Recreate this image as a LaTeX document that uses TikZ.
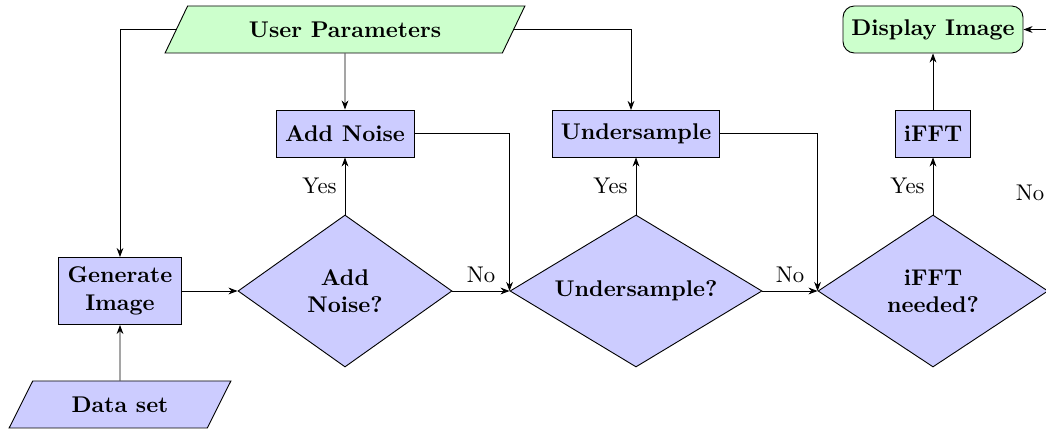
\documentclass[tikz,border=0pt]{standalone}
\usetikzlibrary{shapes.geometric,arrows.meta}
\newcommand\pxu{0.44pt}
\begin{document}
\begin{tikzpicture}[x=0.44pt,y=-0.44pt,
  proc/.style={draw,fill=blue!20,font=\bfseries,align=center,inner sep=2pt},
  dec/.style={draw,fill=blue!20,font=\bfseries,align=center,shape=diamond,inner sep=0pt},
  io/.style={draw,shape=trapezium,trapezium left angle=60,trapezium right angle=120,trapezium stretches=true,font=\bfseries,inner sep=2pt},
  term/.style={draw,fill=green!20,rounded corners=5pt,font=\bfseries,align=center},
  arr/.style={-{Stealth[length=4pt,width=3pt]}},
  lab/.style={inner sep=3.5pt}]
\useasboundingbox (0,0) rectangle (1046,430);
% nodes
\node[io,fill=green!20,minimum width=360*\pxu,minimum height=47*\pxu] (up) at (345,29.5) {User Parameters};
\node[io,fill=blue!20,minimum width=223*\pxu,minimum height=47*\pxu] (ds) at (120,404.5) {Data set};
\node[proc,minimum width=123*\pxu,minimum height=67*\pxu] (gen) at (120,291) {Generate\\Image};
\node[proc,minimum width=138*\pxu,minimum height=47*\pxu] (an) at (345,133.5) {Add Noise};
\node[proc,minimum width=167*\pxu,minimum height=47*\pxu] (us) at (636,133.5) {Undersample};
\node[proc,minimum width=75*\pxu,minimum height=47*\pxu] (ifft) at (933,133.5) {iFFT};
\node[term,minimum width=180*\pxu,minimum height=47*\pxu] (disp) at (933,29.5) {Display Image};
\node[dec,aspect=1.408,minimum width=214*\pxu,minimum height=152*\pxu] (dn) at (345,291) {Add\\Noise?};
\node[dec,aspect=1.658,minimum width=252*\pxu,minimum height=152*\pxu] (du) at (636,291) {Undersample?};
\node[dec,aspect=1.513,minimum width=230*\pxu,minimum height=152*\pxu] (df) at (933,291) {iFFT\\needed?};
\coordinate (usin) at (631,110);
\coordinate (nox) at (1075,291);
% connectors
\draw[arr] (up.west) -| (gen.north);
\draw[arr] (up.east) -| (usin);
\draw[arr] (up.south) -- (an.north);
\draw[arr] (ds.north) -- (gen.south);
\draw[arr] (gen.east) -- (dn.west);
\draw[arr] (dn.north) -- node[lab,left] (y1) {Yes} (an.south);
\draw[arr] (dn.east) -- node[lab,above] (n1) {No} (du.west);
\draw[arr] (an.east) -| (du.west);
\draw[arr] (du.north) -- node[lab,left] (y2) {Yes} (us.south);
\draw[arr] (du.east) -- node[lab,above] (n2) {No} (df.west);
\draw[arr] (us.east) -| (df.west);
\draw[arr] (df.north) -- node[lab,left] (y3) {Yes} (ifft.south);
\draw[arr] (ifft.north) -- (disp.south);
\draw[arr] (df.east) -- (nox) |- (disp.east);
\node[lab] (n3) at (1030,193) {No};
\end{tikzpicture}
\end{document}
